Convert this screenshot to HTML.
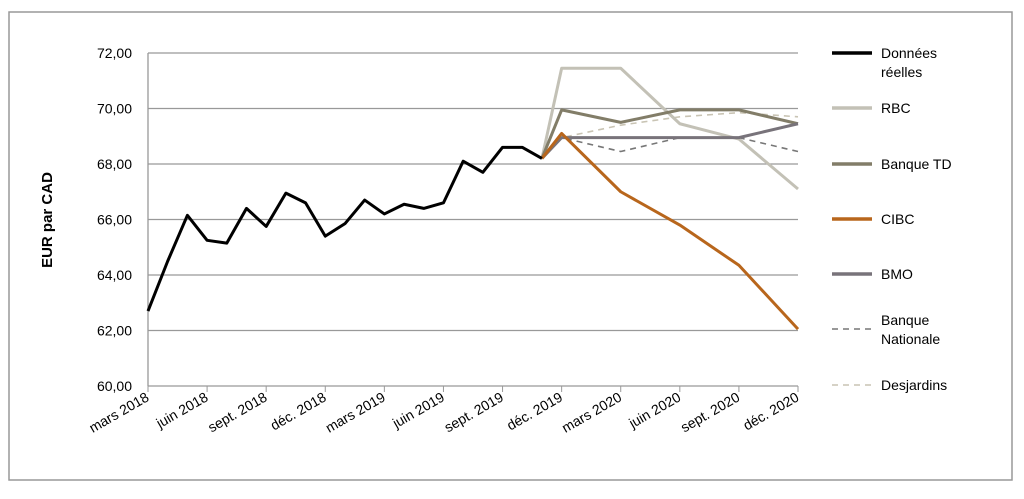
<!DOCTYPE html>
<html><head><meta charset="utf-8"><style>
body{margin:0;background:#fff;width:1024px;height:494px;overflow:hidden;font-family:"Liberation Sans",sans-serif}
</style></head><body>
<svg width="1024" height="494" id="c" font-family="Liberation Sans, sans-serif">
<rect x="9" y="12" width="1003" height="468" fill="none" stroke="#999" stroke-width="1.5"/>
<text transform="translate(52,220) rotate(-90)" text-anchor="middle" font-weight="bold" font-size="15">EUR par CAD</text>
<g id="grid"></g><g id="series"></g><g id="legend"></g>
</svg>
<script>
const yTicks=[60,62,64,66,68,70,72];
const yTickLabels=["60,00","62,00","64,00","66,00","68,00","70,00","72,00"];
const xTickLabels=["mars 2018","juin 2018","sept. 2018","déc. 2018","mars 2019","juin 2019","sept. 2019","déc. 2019","mars 2020","juin 2020","sept. 2020","déc. 2020"];
const actual=[62.7,64.5,66.15,65.25,65.15,66.4,65.75,66.95,66.6,65.4,65.85,66.7,66.2,66.55,66.4,66.6,68.1,67.7,68.6,68.6,68.2];
const forecastMonths=[20,21,24,27,30,33];
const rbc=[68.2,71.45,71.45,69.45,68.9,67.1];
const td=[68.2,69.95,69.5,69.95,69.95,69.45];
const cibc=[68.2,69.1,67.0,65.8,64.35,62.05];
const bmo=[68.2,68.95,68.95,68.95,68.95,69.45];
const bn=[68.2,68.95,68.45,68.95,68.95,68.45];
const desj=[68.2,68.95,69.4,69.7,69.85,69.7];
const NS="http://www.w3.org/2000/svg";
const x=m=>148+m*(650/33);
const y=v=>386-(v-60)*(333/12);
function mk(t,a,p){const e=document.createElementNS(NS,t);for(const k in a)e.setAttribute(k,a[k]);document.getElementById(p).appendChild(e);return e;}
yTicks.forEach((v,i)=>{
 const l=mk('line',{x1:148,x2:798,y1:y(v),y2:y(v),stroke:'#999','stroke-width':1.3},'grid');
 
 
 const t=mk('text',{x:132,y:y(v)+5,'text-anchor':'end','font-size':14},'grid');t.textContent=yTickLabels[i];
 
 
});
const ax=mk('line',{x1:148,x2:148,y1:53,y2:386,stroke:'#999','stroke-width':1.3},'grid');


xTickLabels.forEach((s,i)=>{
 const xx=x(i*3);
 const tk=mk('line',{x1:xx,x2:xx,y1:386,y2:392,stroke:'#999'},'grid');
 
 
 const t=mk('text',{transform:`translate(${xx+2},${400}) rotate(-30)`,'text-anchor':'end','font-size':14},'grid');t.textContent=s;
 
 
});
function line(ms,vals,col,w,dash,name){
 const p=mk('polyline',{points:vals.map((v,i)=>x(ms[i])+','+y(v)).join(' '),fill:'none',stroke:col,'stroke-width':w,'stroke-linejoin':'round','stroke-dasharray':dash||'none'},'series');
 
 
}
const S=[[bn,'#777',1.6,'6,5','Banque\nNationale','series-banque-nationale'],[desj,'#c9c4b4',1.6,'6,5','Desjardins','series-desjardins'],
[rbc,'#c3c1b6',3,null,'RBC','series-rbc'],[td,'#827d68',3,null,'Banque TD','series-banque-td'],[bmo,'#78737a',3,null,'BMO','series-bmo'],[cibc,'#b8661c',3,null,'CIBC','series-cibc']];
S.forEach(s=>line(forecastMonths,s[0],s[1],s[2],s[3],s[5]));
line(actual.map((_,i)=>i),actual,'#000',3,null,'series-donnees-reelles');
const L=[['Données\nréelles','#000',null,53],['RBC','#c3c1b6',null,108],['Banque TD','#827d68',null,164],['CIBC','#b8661c',null,219],['BMO','#78737a',null,274],['Banque\nNationale','#777','6,5',329],['Desjardins','#c9c4b4','6,5',385]];
L.forEach(l=>{
 const ly=l[3];
 const sw=mk('line',{x1:832,x2:872,y1:ly,y2:ly,stroke:l[1],'stroke-width':l[2]?1.6:3.5,'stroke-dasharray':l[2]||'none'},'legend');
 
 
 const lines=l[0].split('\n');
 lines.forEach((s,j)=>{
  const t=mk('text',{x:881,y:ly+5+j*19-(lines.length>1&&l[3]>300?9:0),'font-size':14},'legend');t.textContent=s;
  
  
 });
});
</script>
</body></html>
